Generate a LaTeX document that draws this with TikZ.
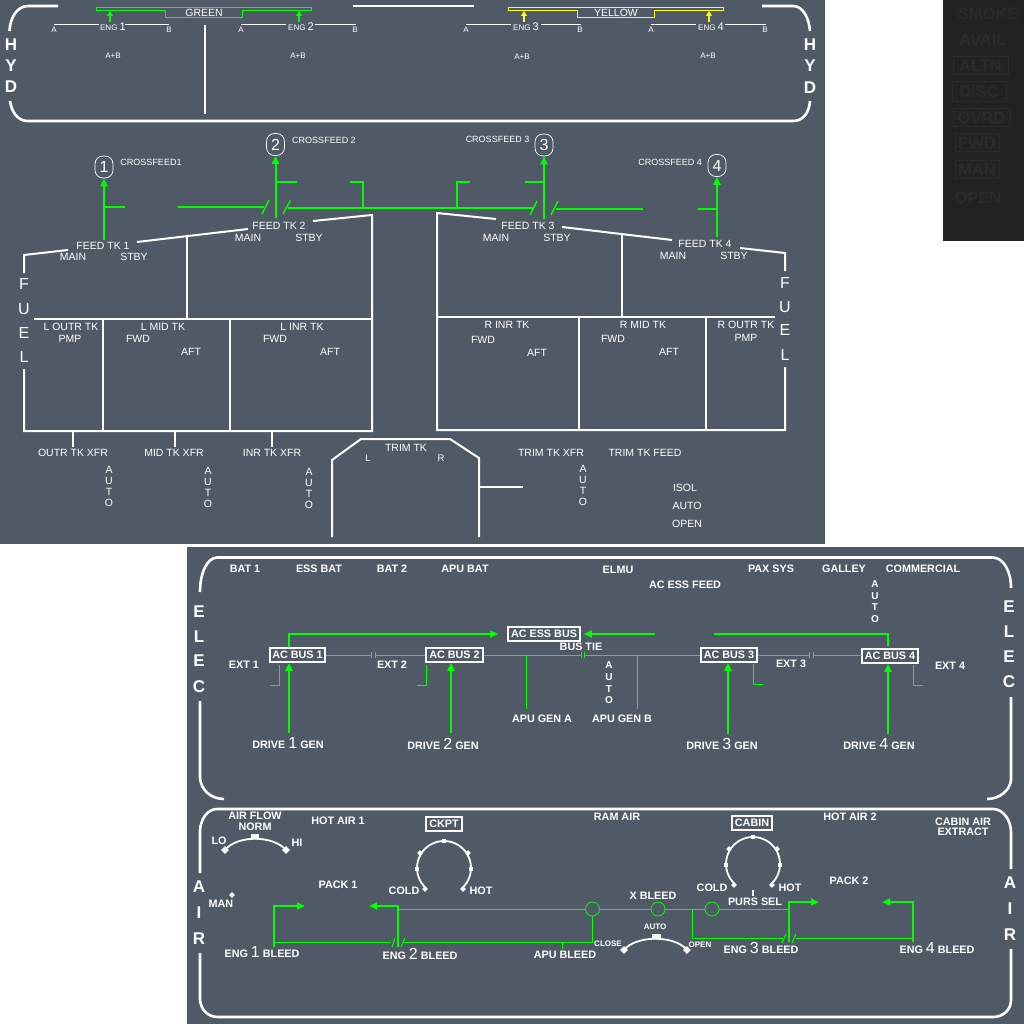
\documentclass[tikz,border=0pt]{standalone}
\usepackage{fontspec}
\setmainfont{Liberation Sans}
\usetikzlibrary{arrows.meta,calc,positioning,shapes.geometric}

\definecolor{panelgrey}{HTML}{505A66}
\definecolor{darkpanel}{HTML}{222222}
\definecolor{darkghost}{HTML}{2B2B2B}
\definecolor{linegreen}{HTML}{00FF00}
\definecolor{lineyellow}{HTML}{FFFF00}

\tikzset{
  lbl/.style={text=white,inner sep=0pt,font=\fontsize{10.5}{12}\selectfont},
  tiny/.style={text=white,inner sep=0pt,font=\fontsize{8}{9}\selectfont},
  cross/.style={text=white,inner sep=0pt,font=\fontsize{9}{10}\selectfont},
  lblb/.style={text=white,inner sep=0pt,font=\bfseries\fontsize{10.8}{11}\selectfont},
  tinyb/.style={text=white,inner sep=0pt,font=\bfseries\fontsize{8}{9}\selectfont},
  side/.style={text=white,inner sep=0pt,font=\fontsize{16}{16}\selectfont},
  sideb/.style={text=white,inner sep=0pt,font=\bfseries\fontsize{17}{17}\selectfont},
  autostack/.style={text=white,inner sep=0pt,align=center,font=\fontsize{10.5}{11}\selectfont},
  autostackb/.style={text=white,inner sep=0pt,align=center,font=\bfseries\fontsize{10}{11.7}\selectfont},
  ghost/.style={text=darkghost,inner sep=0pt,font=\bfseries\fontsize{16.5}{17}\selectfont},
  ghostbox/.style={draw=darkghost,line width=1pt,minimum height=18pt,inner sep=0pt,ghost},
  busbox/.style={draw=white,line width=1.5pt,inner sep=0pt,minimum height=14pt,lblb},
  numbox/.style={draw=white,line width=0.7pt,rounded corners=8pt,minimum width=18pt,minimum height=22pt,inner sep=0pt,
    text=white,font=\fontsize{16}{16}\selectfont},
  frame/.style={draw=white,line width=2.6pt},
  tank/.style={draw=white,line width=2pt},
  thin/.style={draw=linegreen,line width=1pt},
  feed/.style={draw=linegreen,line width=2pt},
  bleed/.style={draw=linegreen,line width=2.4pt},
  tip/.style={-{Triangle[length=8pt,width=7pt]}},
  valve/.style={circle,draw=linegreen,line width=0.8pt,minimum size=14pt,inner sep=0pt},
  dmark/.style={diamond,fill=white,inner sep=0pt,minimum size=6pt},
  smark/.style={rectangle,fill=white,inner sep=0pt,minimum size=4pt},
}

\newcommand{\bignum}[1]{{\fontsize{11}{12}\selectfont #1}}
\newcommand{\hugenum}[1]{{\fontsize{16}{16}\selectfont\mdseries #1}}

% temperature selector
\newcommand{\tempdial}[3]{
  \draw[draw=white,line width=1.8pt] plot[samples=40,domain=-48:228] ({#2+27*cos(\x)},{#3-27*sin(\x)});
  \node[smark] (#1top) at (#2,#3-27) {};
  \node[smark] (#1left) at (#2-27,#3+1) {};
  \node[smark] (#1right) at (#2+27,#3+1) {};
  \node[dmark] (#1dl) at (#2-24,#3-15) {};
  \node[dmark] (#1dr) at (#2+24,#3-15) {};
  \node[dmark] (#1el) at (#2-19,#3+21) {};
  \node[dmark] (#1er) at (#2+19,#3+21) {};
}

\begin{document}
\begin{tikzpicture}[x=1pt,y=-1pt]
  \useasboundingbox (0,0) rectangle (1024,1024);
  \fill[white] (0,0) rectangle (1024,1024);
  \fill[panelgrey] (0,0) rectangle (825,544);
  \fill[panelgrey] (187,547) rectangle (1024,1024);
  \fill[darkpanel] (943,0) rectangle (1024,241);

  % warning legends
  \node[ghost] (smoke) at (988,14) {SMOKE};
  \node[ghost] (avail) at (983,40) {AVAIL};
  \node[ghostbox,minimum width=55pt] (altn) at (980.5,66) {ALTN};
  \node[ghostbox,minimum width=54pt,minimum height=20pt] (disc) at (979,92) {DISC};
  \node[ghostbox,minimum width=57pt] (ovrd) at (981.5,118) {OVRD};
  \node[ghostbox,minimum width=44pt] (fwdbox) at (977,143) {FWD};
  \node[ghostbox,minimum width=44pt] (manbox) at (977,170) {MAN};
  \node[ghost] (openghost) at (978,198) {OPEN};

  % hydraulics
  \draw[frame] (58,6) -- (28,6) .. controls (17,6) and (10,18) .. (9.5,31);
  \draw[frame] (353,6) -- (474,6);
  \draw[frame] (10,101) .. controls (12,113) and (18,121) .. (28,121) -- (793,121)
    .. controls (803,121) and (809,113) .. (810,101);
  \draw[frame] (762,6) -- (793,6) .. controls (803,6) and (809,18) .. (810,31);
  \node[sideb] (hydl1) at (11,45) {H};
  \node[sideb] (hydl2) at (11,66) {Y};
  \node[sideb] (hydl3) at (11,87) {D};
  \node[sideb] (hydr1) at (810,45) {H};
  \node[sideb] (hydr2) at (810,66) {Y};
  \node[sideb] (hydr3) at (810,88) {D};
  \draw[thin] (96.5,7.5) -- (311.5,7.5) -- (311.5,10.5) -- (242.5,10.5) -- (242.5,18) -- (165.5,18) -- (165.5,10.5) -- (96.5,10.5) -- cycle;
  \draw[thin,draw=lineyellow] (508,7.5) -- (723.5,7.5) -- (723.5,10.5) -- (654,10.5) -- (654,18) -- (577.5,18) -- (577.5,10.5) -- (508,10.5) -- cycle;
  \node[lbl] (green) at (204,13) {GREEN};
  \node[lbl] (yellow) at (616,13) {YELLOW};
  \node[tiny] (eng1) at (113,27) {ENG \bignum{1}};
  \node[tiny] (eng2) at (301,27) {ENG \bignum{2}};
  \node[tiny] (eng3) at (526,27) {ENG \bignum{3}};
  \node[tiny] (eng4) at (711,27) {ENG \bignum{4}};
  \coordinate (g1tip) at (110,11);
  \coordinate (g2tip) at (299,11);
  \coordinate (y3tip) at (524,11);
  \coordinate (y4tip) at (709,11);
  \draw[feed,-{Triangle[length=5pt,width=6pt]}] (110,22) -- (g1tip);
  \draw[feed,-{Triangle[length=5pt,width=6pt]}] (299,22) -- (g2tip);
  \draw[feed,draw=lineyellow,fill=lineyellow,-{Triangle[length=5pt,width=6pt]}] (524,22) -- (y3tip);
  \draw[feed,draw=lineyellow,fill=lineyellow,-{Triangle[length=5pt,width=6pt]}] (709,22) -- (y4tip);
  \node[tiny] (a1) at (54,30) {A};
  \node[tiny] (b1) at (169,30) {B};
  \node[tiny] (a2) at (241,30) {A};
  \node[tiny] (b2) at (355,30) {B};
  \node[tiny] (a3) at (466,30) {A};
  \node[tiny] (b3) at (580,30) {B};
  \node[tiny] (a4) at (651,30) {A};
  \node[tiny] (b4) at (765,30) {B};
  \draw[tank,line width=1pt] (54,25) -- (99,25) (125,25) -- (169,25);
  \draw[tank,line width=1pt] (241,25) -- (286,25) (315,25) -- (356,25);
  \draw[tank,line width=1pt] (466,25) -- (511,25) (541,25) -- (581,25);
  \draw[tank,line width=1pt] (651,25) -- (696,25) (725,25) -- (766,25);
  \node[tiny] (ab1) at (113,56) {A+B};
  \node[tiny] (ab2) at (298,56) {A+B};
  \node[tiny] (ab3) at (522,57) {A+B};
  \node[tiny] (ab4) at (708,56) {A+B};
  \draw[tank] (205,25) -- (205,114);

  % fuel crossfeed
  \node[numbox] (xf1) at (104,167) {1};
  \node[numbox] (xf2) at (275.5,144.5) {2};
  \node[numbox] (xf3) at (544,145) {3};
  \node[numbox] (xf4) at (717,165.5) {4};
  \node[cross] (xflbl1) at (151,162) {CROSSFEED1};
  \node[cross] (xflbl2) at (324,140) {CROSSFEED 2};
  \node[cross] (xflbl3) at (497.5,139) {CROSSFEED 3};
  \node[cross] (xflbl4) at (670,162) {CROSSFEED 4};
  \coordinate (tk1out) at (104,240);
  \coordinate (tk2out) at (275.5,218);
  \coordinate (tk3out) at (544,219);
  \coordinate (tk4out) at (717,237);
  \draw[feed,tip] (tk1out) -- (xf1);
  \draw[feed,tip] (tk2out) -- (xf2);
  \draw[feed,tip] (tk3out) -- (xf3);
  \draw[feed,tip] (tk4out) -- (xf4);
  \draw[feed] (104,207) -- (125,207);
  \draw[feed] (178,207) -- (264,207);
  \draw[feed] (276,182) -- (297,182);
  \draw[feed] (288,208.5) -- (533,208.5);
  \draw[feed] (363,208) -- (363,182) -- (350,182);
  \draw[feed] (457,208) -- (457,182) -- (470,182);
  \draw[feed] (544,182) -- (525,182);
  \draw[feed] (556,209) -- (643,209);
  \draw[feed] (717,209) -- (698,209);
  \draw[feed,line width=1.4pt] (262,214) -- (269,200) (283,214) -- (290.5,200.5);
  \draw[feed,line width=1.4pt] (530,215) -- (537,201) (551,215) -- (558,201);

  % fuel tanks
  \draw[tank] (24,273) -- (24,255) -- (68,250);
  \draw[tank] (137,242) -- (248,229);
  \draw[tank] (313,221) -- (372,215) -- (372,431) -- (24,431) -- (24,369);
  \draw[tank] (187,236) -- (187,319);
  \draw[tank] (34,319) -- (372,319);
  \draw[tank] (103,319) -- (103,431);
  \draw[tank] (230,319) -- (230,431);
  \draw[tank] (73,431) -- (73,447);
  \draw[tank] (175,431) -- (175,447);
  \draw[tank] (272,431) -- (272,447);
  \draw[tank] (496,219) -- (437,213) -- (437,430) -- (785,430) -- (785,367);
  \draw[tank] (562,227) -- (672,240);
  \draw[tank] (740,248) -- (785,253) -- (785,271);
  \draw[tank] (622,234) -- (622,317);
  \draw[tank] (437,317) -- (775,317);
  \draw[tank] (579,317) -- (579,430);
  \draw[tank] (706,317) -- (706,430);
  \node[side] (fuell1) at (24,284) {F};
  \node[side] (fuell2) at (24,309) {U};
  \node[side] (fuell3) at (24,333) {E};
  \node[side] (fuell4) at (24,357) {L};
  \node[side] (fuelr1) at (785,283) {F};
  \node[side] (fuelr2) at (785,307) {U};
  \node[side] (fuelr3) at (785,330) {E};
  \node[side] (fuelr4) at (785,355) {L};
  \node[lbl] (feedtk1) at (103,246) {FEED TK 1};
  \node[lbl] (main1) at (73,257) {MAIN};
  \node[lbl] (stby1) at (134,257) {STBY};
  \node[lbl] (feedtk2) at (279,226) {FEED TK 2};
  \node[lbl] (main2) at (248,238) {MAIN};
  \node[lbl] (stby2) at (309,238) {STBY};
  \node[lbl] (feedtk3) at (528,226) {FEED TK 3};
  \node[lbl] (main3) at (496,238) {MAIN};
  \node[lbl] (stby3) at (557,238) {STBY};
  \node[lbl] (feedtk4) at (705,244) {FEED TK 4};
  \node[lbl] (main4) at (673,256) {MAIN};
  \node[lbl] (stby4) at (734,256) {STBY};
  \node[lbl] (loutr) at (71,327) {L OUTR TK};
  \node[lbl] (lpmp) at (70,339) {PMP};
  \node[lbl] (lmid) at (163,327) {L  MID TK};
  \node[lbl] (lmidf) at (138,339) {FWD};
  \node[lbl] (lmida) at (191,352) {AFT};
  \node[lbl] (linr) at (302,327) {L INR  TK};
  \node[lbl] (linrf) at (275,339) {FWD};
  \node[lbl] (linra) at (330,352) {AFT};
  \node[lbl] (rinr) at (507,325) {R INR  TK};
  \node[lbl] (rinrf) at (483,340) {FWD};
  \node[lbl] (rinra) at (537,353) {AFT};
  \node[lbl] (rmid) at (643,325) {R MID  TK};
  \node[lbl] (rmidf) at (613,339) {FWD};
  \node[lbl] (rmida) at (669,352) {AFT};
  \node[lbl] (routr) at (746,325) {R OUTR TK};
  \node[lbl] (rpmp) at (746,338) {PMP};
  \node[lbl] (outrxfr) at (73,453) {OUTR TK XFR};
  \node[lbl] (midxfr) at (174,453) {MID TK XFR};
  \node[lbl] (inrxfr) at (272,453) {INR  TK XFR};
  \node[autostack] (auto1) at (109,486) {A\\U\\T\\O};
  \node[autostack] (auto2) at (208,487) {A\\U\\T\\O};
  \node[autostack] (auto3) at (309,488) {A\\U\\T\\O};
  \node[autostack] (auto4) at (583,485) {A\\U\\T\\O};

  % trim tank
  \draw[tank] (332,537) -- (332,460) -- (361,439) -- (450,439) -- (479,458) -- (479,537);
  \draw[tank] (479,487) -- (523,487);
  \node[lbl] (trimtk) at (406,448) {TRIM TK};
  \node[lbl,font=\fontsize{9.5}{10}\selectfont] (triml) at (368,458) {L};
  \node[lbl,font=\fontsize{9.5}{10}\selectfont] (trimr) at (441,458) {R};
  \node[lbl] (trimxfr) at (551,453) {TRIM TK XFR};
  \node[lbl] (trimfeed) at (645,453) {TRIM TK FEED};
  \node[lbl] (isol) at (685,488) {ISOL};
  \node[lbl] (trimauto) at (687,506) {AUTO};
  \node[lbl] (trimopen) at (687,524) {OPEN};

  % electrics
  \draw[frame] (200,592) .. controls (200,573) and (207,558) .. (217,557.5) -- (993,557.5)
    .. controls (1003,558) and (1011,570) .. (1011,588);
  \draw[frame] (200,701) -- (200,778) .. controls (201,790) and (211,799) .. (224,799);
  \draw[frame] (1011,697) -- (1011,780) .. controls (1010,790) and (1000,799) .. (987,799);
  \node[sideb] (elecl1) at (199,612) {E};
  \node[sideb] (elecl2) at (199,637) {L};
  \node[sideb] (elecl3) at (199,661) {E};
  \node[sideb] (elecl4) at (199,687) {C};
  \node[sideb] (elecr1) at (1009,607) {E};
  \node[sideb] (elecr2) at (1009,632) {L};
  \node[sideb] (elecr3) at (1009,657) {E};
  \node[sideb] (elecr4) at (1009,682) {C};
  \node[lblb] (bat1) at (245,569) {BAT 1};
  \node[lblb] (essbat) at (319,569) {ESS BAT};
  \node[lblb] (bat2) at (392,569) {BAT 2};
  \node[lblb] (apubat) at (465,569) {APU BAT};
  \node[lblb] (elmu) at (618,570) {ELMU};
  \node[lblb] (essfeed) at (685,585) {AC ESS FEED};
  \node[lblb] (paxsys) at (771,569) {PAX SYS};
  \node[lblb] (galley) at (844,569) {GALLEY};
  \node[lblb] (commercial) at (923,569) {COMMERCIAL};
  \node[autostackb] (autoc) at (875,601.5) {A\\U\\T\\O};
  \node[busbox,minimum width=55pt] (acbus1) at (297.5,655) {AC BUS 1};
  \node[busbox,minimum width=57pt] (acbus2) at (454.5,655) {AC BUS 2};
  \node[busbox,minimum width=72pt] (essbus) at (544,634) {AC ESS BUS};
  \node[busbox,minimum width=56pt] (acbus3) at (729,655) {AC BUS 3};
  \node[busbox,minimum width=56pt] (acbus4) at (890,656) {AC BUS 4};
  \coordinate (ess1) at (289,647);
  \coordinate (ess3) at (655,634);
  \coordinate (gen1) at (289,733);
  \coordinate (gen2) at (451,733);
  \coordinate (gen3) at (728,734);
  \coordinate (gen4) at (888,734);
  \draw[bleed,tip] (ess1) -- (289,634) -- ($(essbus.west)+(-9,0)$);
  \draw[bleed,tip] (ess3) -- ($(essbus.east)+(3,0)$);
  \draw[bleed] (714,634) -- (888,634) -- (888,646);
  \draw[bleed,tip] (gen1) -- (gen1 |- acbus1.south);
  \draw[bleed,tip] (gen2) -- (gen2 |- acbus2.south);
  \draw[bleed,tip] (gen3) -- (gen3 |- acbus3.south);
  \draw[bleed,tip] (gen4) -- (gen4 |- acbus4.south);
  \draw[thin] (acbus1.east) -- (371,655) (371,652) -- (371,658) (375,652) -- (375,658) (375,655) -- (acbus2.west);
  \draw[thin] (acbus2.east) -- (581,655) (581,652) -- (581,658) (584,652) -- (584,658) (584,655) -- (acbus3.west);
  \draw[thin] (acbus3.east) -- (809,655) (809,652) -- (809,658) (813,652) -- (813,658) (813,655) -- (862,655);
  \draw[thin] (526.5,655) -- (526.5,709);
  \draw[thin] (637.5,655) -- (637.5,709);
  \draw[thin] (279,665) -- (279,685) -- (270,685);
  \draw[thin] (426.5,665) -- (426.5,685.5) -- (417,685.5);
  \draw[thin] (753,664) -- (753,684) -- (763,684);
  \draw[thin] (913.5,665) -- (913.5,685.5) -- (923,685.5);
  \node[lblb] (ext1) at (244,665) {EXT 1};
  \node[lblb] (ext2) at (392,665) {EXT 2};
  \node[lblb] (ext3) at (791,664) {EXT 3};
  \node[lblb] (ext4) at (950,666) {EXT 4};
  \node[lblb] (bustie) at (581,647) {BUS TIE};
  \node[autostackb] (autotie) at (609,683) {A\\U\\T\\O};
  \node[lblb] (apugena) at (542,719) {APU GEN A};
  \node[lblb] (apugenb) at (622,719) {APU GEN B};
  \node[lblb] (drive1) at (288,743) {DRIVE \hugenum{1} GEN};
  \node[lblb] (drive2) at (443,744) {DRIVE \hugenum{2} GEN};
  \node[lblb] (drive3) at (722,744) {DRIVE \hugenum{3} GEN};
  \node[lblb] (drive4) at (879,744) {DRIVE \hugenum{4} GEN};

  % air conditioning
  \draw[frame] (200,873) -- (200,830) .. controls (201,818) and (208,809) .. (217,809) -- (993,809)
    .. controls (1003,809) and (1011,820) .. (1011,832) -- (1011,869);
  \draw[frame] (200,953) -- (200,1000) .. controls (201,1010) and (208,1017) .. (218,1017) -- (993,1017)
    .. controls (1003,1017) and (1011,1010) .. (1011,1000) -- (1011,949);
  \node[sideb] (airl1) at (199,887) {A};
  \node[sideb] (airl2) at (199,913) {I};
  \node[sideb] (airl3) at (199,939) {R};
  \node[sideb] (airr1) at (1010,883) {A};
  \node[sideb] (airr2) at (1010,909) {I};
  \node[sideb] (airr3) at (1010,935) {R};
  \node[lblb] (airflow) at (255,816) {AIR FLOW};
  \node[lblb] (norm) at (255,827) {NORM};
  \node[lblb] (hotair1) at (338,821) {HOT AIR 1};
  \node[lblb] (lo) at (219,841) {LO};
  \node[lblb] (hi) at (297,843) {HI};
  \node[lblb] (man) at (221,904) {MAN};
  \node[lblb] (pack1) at (338,885) {PACK 1};
  \node[lblb] (cold1) at (404,891) {COLD};
  \node[lblb] (hot1) at (481,891) {HOT};
  \node[lblb] (ramair) at (617,817) {RAM AIR};
  \node[lblb] (hotair2) at (850,817) {HOT AIR 2};
  \node[lblb] (extract1) at (963,822) {CABIN AIR};
  \node[lblb] (extract2) at (963,832) {EXTRACT};
  \node[lblb] (pack2) at (849,881) {PACK 2};
  \node[lblb] (cold2) at (712,888) {COLD};
  \node[lblb] (hot2) at (790,888) {HOT};
  \node[lblb] (xbleed) at (653,896) {X BLEED};
  \node[lblb] (purssel) at (755,902) {PURS SEL};
  \node[lblb] (bleed1) at (262,952) {ENG \hugenum{1} BLEED};
  \node[lblb] (bleed2) at (420,954) {ENG \hugenum{2} BLEED};
  \node[lblb] (apubleed) at (565,955) {APU BLEED};
  \node[lblb] (bleed3) at (761,948) {ENG \hugenum{3} BLEED};
  \node[lblb] (bleed4) at (937,948) {ENG \hugenum{4} BLEED};
  \node[tinyb] (xauto) at (655,927) {AUTO};
  \node[tinyb] (xclose) at (608,944) {CLOSE};
  \node[tinyb] (xopen) at (700,945) {OPEN};
  \node[busbox,minimum width=36pt,line width=1.2pt] (ckpt) at (444,824) {CKPT};
  \node[busbox,minimum width=40pt,line width=1.2pt] (cabin) at (752,823) {CABIN};

  \draw[draw=white,line width=1.8pt] (225,850) .. controls (237,835) and (273,835) .. (286,850);
  \node[dmark,minimum size=8pt] (flowlo) at (225,850) {};
  \node[dmark,minimum size=8pt] (flowhi) at (286,850) {};
  \node[smark,minimum width=8pt] (flownorm) at (255,836) {};
  \node[dmark] (manmark) at (232,895) {};
  \tempdial{ckptdial}{444}{868}
  \tempdial{cabindial}{753}{864}
  \node[smark,minimum width=2.5pt,minimum height=6pt] (pursmark) at (753,893) {};
  \draw[draw=white,line width=1.8pt] (624,950) .. controls (636,935) and (675,935) .. (687,950);
  \node[dmark,minimum size=8pt] (selclose) at (624,950) {};
  \node[dmark,minimum size=8pt] (selopen) at (687,950) {};
  \node[smark,minimum width=9pt] (selauto) at (656,936) {};

  \node[valve] (valve1) at (592.5,909) {};
  \node[valve] (valve2) at (658,909) {};
  \node[valve] (valve3) at (712,909) {};
  \coordinate (pack1l) at (305,906);
  \coordinate (pack1r) at (369,906);
  \coordinate (pack2l) at (819,902);
  \coordinate (pack2r) at (882,902);
  \draw[bleed,tip] (274,947) -- (274,906) -- (pack1l);
  \draw[bleed,tip] (398,947) -- (398,906) -- (pack1r);
  \draw[bleed,tip] (789,942) -- (789,902) -- (pack2l);
  \draw[bleed,tip] (913,942) -- (913,902) -- (pack2r);
  \draw[thin] (274,942.5) -- (391,942.5);
  \draw[thin] (404,942.5) -- (592.5,942.5) -- (valve1.south);
  \draw[thin] (562.5,942.5) -- (562.5,949);
  \draw[thin] (392,947) -- (395,938) (401,947) -- (405,938);
  \draw[thin] (398,909) -- (valve1);
  \draw[thin] (valve1) -- (valve2);
  \draw[thin] (valve2) -- (valve3);
  \draw[thin] (valve3) -- (789,909);
  \draw[thin] (692,909) -- (692,938) -- (783,938);
  \draw[thin] (782,943) -- (786,934) (792,943) -- (796,934);
  \draw[thin] (796,938) -- (913,938);
\end{tikzpicture}
\end{document}
